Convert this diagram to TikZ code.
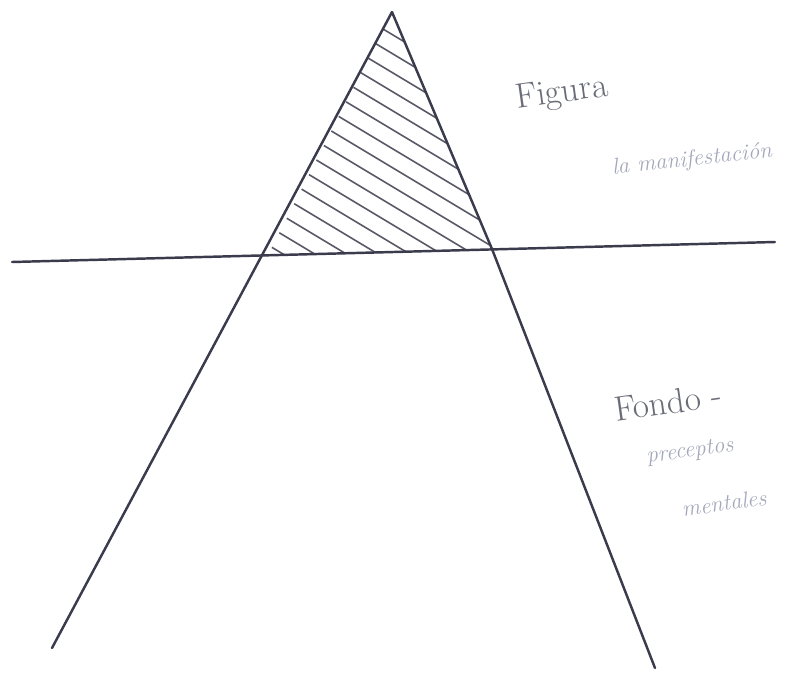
\documentclass[tikz,border=0pt]{standalone}
\usepackage{tikz}
\definecolor{pen}{HTML}{3A3B4C}
\definecolor{pengray}{HTML}{6A6C78}
\definecolor{penlight}{HTML}{A3A8BA}
\tikzset{
	stroke/.style={draw=pen, line width=1.4pt, line cap=round, line join=round},
	hatch/.style={draw=pen!85, line width=0.9pt},
	bigword/.style={text=pengray, font=\fontsize{20}{24}\selectfont, inner sep=0pt},
	smallword/.style={text=penlight, font=\itshape\fontsize{13}{15}\selectfont, inner sep=0pt}
}

\begin{document}
\begin{tikzpicture}[x=0.02cm, y=-0.02cm]
	\useasboundingbox (0,0) rectangle (806,677);
	% corners of the sketch
	\coordinate (apex) at (392,12);
	\coordinate (lcut) at (268,255);
	\coordinate (rcut) at (492,249);
	\coordinate (lend) at (52,648);
	\coordinate (rend) at (655,668);
	\coordinate (hl) at (12,262);
	\coordinate (hr) at (775,242);
	% hatched top
	\begin{scope}
		\clip (apex) -- (lcut) -- (rcut) -- cycle;
		\foreach \k in {-40,-21,...,255}
			\draw[hatch] (200,{\k-40.8}) -- (560,{\k+175.2});
	\end{scope}
	% the two sides and the cut
	\draw[stroke] (lend) -- (apex) -- (rcut) -- (rend);
	\draw[stroke] (hl) -- (hr);
	% labels
	\node[bigword, rotate=8] (figura) at (562,94) {Figura};
	\node[smallword, rotate=6] (manif) at (692,160) {la manifestación};
	\node[bigword, rotate=8] (fondo) at (668,402) {Fondo -};
	\node[smallword, rotate=8] (precep) at (690,452) {preceptos};
	\node[smallword, rotate=8] (mentales) at (724,503) {mentales};
\end{tikzpicture}
\end{document}
